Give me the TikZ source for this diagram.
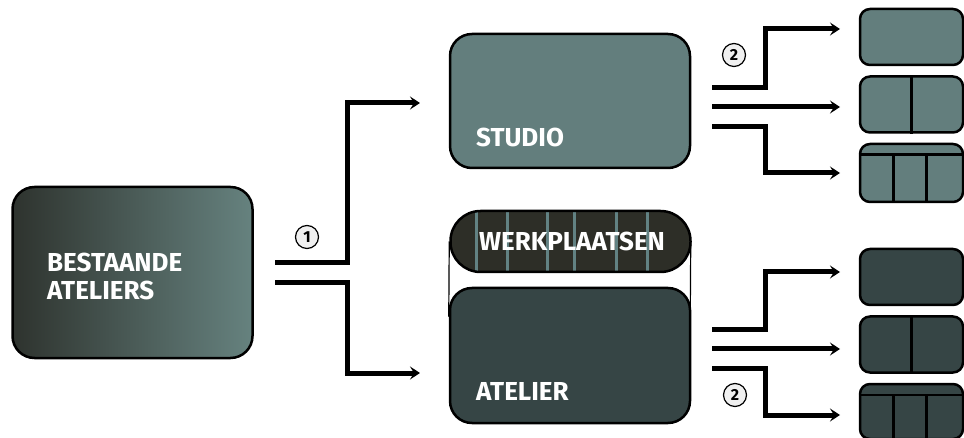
\documentclass[tikz,border=0pt]{standalone}
\usepackage{fontspec}
\setmainfont{Fira Sans}
\usepackage{tikz}
\usetikzlibrary{arrows.meta}
\usetikzlibrary{positioning, backgrounds}
\definecolor{studio-teal}{HTML}{637E7D}
\definecolor{atelier-dark}{HTML}{364545}
\definecolor{werk-dark}{HTML}{2D2E27}
\definecolor{stripe-teal}{HTML}{628283}
\definecolor{grad-dark}{HTML}{2E332E}
\definecolor{grad-light}{HTML}{66827F}
\tikzset{flow-line/.style={line width=5pt, -{Stealth[length=10pt, width=13pt, inset=4pt]}}}
\tikzset{big-box/.style={draw, line width=2.5pt, inner sep=0, minimum width=240pt, rounded corners=22pt}}
\tikzset{small-box/.style={draw, line width=2.5pt, inner sep=0, minimum width=103pt, minimum height=56pt, rounded corners=10pt}}
\tikzset{split-line/.style={line width=2.5pt}}
\tikzset{box-label/.style={font=\bfseries\fontsize{26}{28}\selectfont, text=white, inner sep=0, anchor=base west, align=left}}
\tikzset{step-num/.style={draw, circle, line width=1.2pt, fill=gray!12, inner sep=0, minimum size=23pt, font=\bfseries\fontsize{16}{16}\selectfont}}

\begin{document}
\begin{tikzpicture}[x=1pt, y=-1pt]
    \useasboundingbox (0,0) rectangle (964,438);

    % left box
    \node[big-box, minimum height=171pt, left color=grad-dark, right color=grad-light] (bestaande) at (132.5,272.5) {};
    \node[box-label] (bestaande-txt) at (47,300) {BESTAANDE\\ATELIERS};

    % middle boxes
    \node[big-box, minimum height=134pt, fill=studio-teal] (studio) at (570,101) {};
    \node[box-label] (studio-txt) at (476,147) {STUDIO};

    \node[big-box, minimum height=61pt, rounded corners=30pt, fill=werk-dark,
        path picture={
            \foreach \dx in {26,57,97,124,166,197}
                \draw[stripe-teal, line width=3pt] ([xshift=\dx pt]path picture bounding box.south west) -- ([xshift=\dx pt]path picture bounding box.north west);
        }] (werkplaatsen) at (570.5,241.5) {};
    \node[box-label, anchor=base] (werkplaatsen-txt) at (572,251) {WERKPLAATSEN};

    \node[big-box, minimum height=135pt, fill=atelier-dark] (atelier) at (570,355.5) {};
    \node[box-label] (atelier-txt) at (476,400) {ATELIER};

    \begin{scope}[on background layer]
        \draw[line width=1.2pt] (werkplaatsen.west) -- ([yshift=-30pt]atelier.north west);
        \draw[line width=1.2pt] ([xshift=-1pt]werkplaatsen.east) -- ([yshift=-30pt, xshift=-1pt]atelier.north east);
    \end{scope}

    % small boxes, top
    \node[small-box, fill=studio-teal] (studio-a) at (911.5,37) {};
    \node[small-box, fill=studio-teal, below=9pt of studio-a] (studio-b) {};
    \node[small-box, fill=studio-teal, minimum height=58pt, below=9pt of studio-b] (studio-c) {};
    \draw[split-line] (studio-b.north) -- (studio-b.south);
    \draw[split-line] ([yshift=-12pt]studio-c.north west) -- ([yshift=-12pt]studio-c.north east);
    \draw[split-line] ([xshift=-18pt, yshift=-12pt]studio-c.north) -- ([xshift=-18pt]studio-c.south);
    \draw[split-line] ([xshift=15pt, yshift=-12pt]studio-c.north) -- ([xshift=15pt]studio-c.south);

    % small boxes, bottom
    \node[small-box, fill=atelier-dark] (atelier-a) at (911.5,277) {};
    \node[small-box, fill=atelier-dark, below=9pt of atelier-a] (atelier-b) {};
    \node[small-box, fill=atelier-dark, minimum height=55pt, below=9pt of atelier-b] (atelier-c) {};
    \draw[split-line] (atelier-b.north) -- (atelier-b.south);
    \draw[split-line] ([yshift=-12pt]atelier-c.north west) -- ([yshift=-12pt]atelier-c.north east);
    \draw[split-line] ([xshift=-18pt, yshift=-12pt]atelier-c.north) -- ([xshift=-18pt]atelier-c.south);
    \draw[split-line] ([xshift=15pt, yshift=-12pt]atelier-c.north) -- ([xshift=15pt]atelier-c.south);

    % step 1
    \coordinate (split-up) at (275,263);
    \coordinate (split-down) at (275,283);
    \coordinate (studio-in) at (420,103);
    \coordinate (atelier-in) at (420,373);
    \draw[flow-line] (split-up) -- ++(72,0) |- (studio-in);
    \draw[flow-line] (split-down) -- ++(72,0) |- (atelier-in);
    \node[step-num] (step1) at (307,237) {1};

    % step 2, studio
    \coordinate (studio-out1) at (712,88);
    \coordinate (studio-out2) at (712,107);
    \coordinate (studio-out3) at (712,127);
    \coordinate (studio-to1) at (840,29);
    \coordinate (studio-to2) at (840,107);
    \coordinate (studio-to3) at (840,173);
    \draw[flow-line] (studio-out1) -- ++(53,0) |- (studio-to1);
    \draw[flow-line] (studio-out2) -- (studio-to2);
    \draw[flow-line] (studio-out3) -- ++(53,0) |- (studio-to3);
    \node[step-num] (step2-top) at (734,55) {2};

    % step 2, atelier
    \coordinate (atelier-out1) at (712,330);
    \coordinate (atelier-out2) at (712,349);
    \coordinate (atelier-out3) at (712,368);
    \coordinate (atelier-to1) at (840,272);
    \coordinate (atelier-to2) at (840,349);
    \coordinate (atelier-to3) at (840,415);
    \draw[flow-line] (atelier-out1) -- ++(53,0) |- (atelier-to1);
    \draw[flow-line] (atelier-out2) -- (atelier-to2);
    \draw[flow-line] (atelier-out3) -- ++(53,0) |- (atelier-to3);
    \node[step-num] (step2-bottom) at (735,395) {2};
\end{tikzpicture}
\end{document}
